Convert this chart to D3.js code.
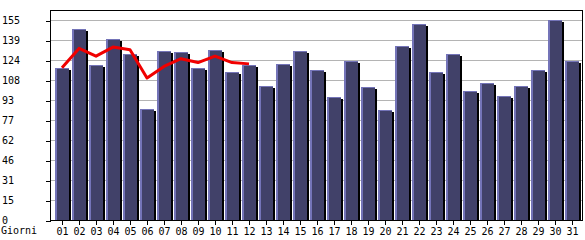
<!DOCTYPE html>
<html>
<head>
<meta charset="utf-8">
<script src="https://cdn.jsdelivr.net/npm/d3@7"></script>
<style>
  html, body { margin: 0; padding: 0; background: #fff; }
  svg { display: block; }
  text { font-family: "DejaVu Sans Mono", monospace; font-size: 10px; fill: #000; }
</style>
</head>
<body>
<svg id="chart" width="585" height="240"></svg>
<script>
(function () {
  'use strict';

  // ── Data ──────────────────────────────────────────────────────────────────
  var days = ['01','02','03','04','05','06','07','08','09','10','11','12','13','14','15','16',
              '17','18','19','20','21','22','23','24','25','26','27','28','29','30','31'];
  var visits = [118, 148, 120, 140, 129, 86, 131, 130, 118, 132, 115, 120, 104, 121, 131, 116,
                95, 123, 103, 85, 135, 152, 115, 129, 100, 106, 96, 104, 116, 155, 123];
  var trendDays = ['01','02','03','04','05','06','07','08','09','10','11','12'];
  var trend = [118, 133, 127, 134, 132, 110, 119, 125, 122, 127, 122, 121];
  var yTickValues = [0, 15.5, 31, 46.5, 62, 77.5, 93, 108.5, 124, 139.5, 155];
  var yTickLabels = ['0','15','31','46','62','77','93','108','124','139','155'];
  var xTitle = 'Giorni';

  // ── Layout ────────────────────────────────────────────────────────────────
  var left = 50, right = 582, top = 10, bottom = 220;
  var svg = d3.select('#chart');

  var x = d3.scaleBand().domain(days).range([54, 54 + days.length * 17]).padding(0);
  var y = d3.scaleLinear().domain([0, 155]).range([bottom, 20]);

  // ── Gridlines ─────────────────────────────────────────────────────────────
  svg.append('g').selectAll('line').data(yTickValues.slice(1)).join('line')
    .attr('x1', left).attr('x2', right)
    .attr('y1', function (d) { return Math.round(y(d)) + 0.5; })
    .attr('y2', function (d) { return Math.round(y(d)) + 0.5; })
    .attr('stroke', '#b4b4b4').attr('stroke-width', 1);

  // ── Bars: shadow, highlight, body ─────────────────────────────────────────
  var bars = svg.append('g').attr('shape-rendering', 'crispEdges')
    .selectAll('g').data(visits).join('g');

  function bx(d, i) { return x(days[i]) + 1; }
  function by(d) { return Math.round(y(d)); }

  bars.append('rect')
    .attr('x', function (d, i) { return bx(d, i) + 2; })
    .attr('y', function (d) { return by(d) + 2; })
    .attr('width', 14)
    .attr('height', function (d) { return Math.max(0, bottom - by(d) - 2); })
    .attr('fill', '#000');
  bars.append('rect')
    .attr('x', bx)
    .attr('y', by)
    .attr('width', 14)
    .attr('height', function (d) { return bottom - by(d); })
    .attr('fill', '#7474b8');
  bars.append('rect')
    .attr('x', function (d, i) { return bx(d, i) + 2; })
    .attr('y', function (d) { return by(d) + 1; })
    .attr('width', 12)
    .attr('height', function (d) { return bottom - by(d) - 1; })
    .attr('fill', '#414169');

  // ── Trend line ────────────────────────────────────────────────────────────
  var line = d3.line()
    .x(function (d, i) { return x(trendDays[i]) + 8; })
    .y(function (d) { return y(d); });
  svg.append('path').datum(trend)
    .attr('d', line)
    .attr('fill', 'none')
    .attr('stroke', '#f00000')
    .attr('stroke-width', 3)
    .attr('stroke-linejoin', 'round');

  // ── Frame ─────────────────────────────────────────────────────────────────
  svg.append('rect')
    .attr('x', left + 0.5).attr('y', top + 0.5)
    .attr('width', right - left).attr('height', bottom - top)
    .attr('fill', 'none').attr('stroke', '#000').attr('stroke-width', 1)
    .attr('shape-rendering', 'crispEdges');

  // ── Axes ──────────────────────────────────────────────────────────────────
  var yAxis = svg.append('g')
    .attr('transform', 'translate(' + (left + 0.5) + ',0.5)')
    .attr('shape-rendering', 'crispEdges')
    .call(d3.axisLeft(y).tickValues(yTickValues).tickSize(5).tickSizeOuter(0)
      .tickFormat(function (d, i) { return yTickLabels[i]; }));
  yAxis.select('.domain').remove();
  yAxis.selectAll('.tick line').attr('stroke', '#000');
  yAxis.selectAll('.tick text')
    .attr('x', -(left - 1.5)).attr('dy', '0.32em')
    .attr('text-anchor', 'start')
    .attr('font-family', null).attr('font-size', null);

  var xAxis = svg.append('g')
    .attr('transform', 'translate(0.5,' + (bottom + 0.5) + ')')
    .attr('shape-rendering', 'crispEdges')
    .call(d3.axisBottom(x).tickSize(4).tickSizeOuter(0).tickPadding(3));
  xAxis.select('.domain').remove();
  xAxis.selectAll('.tick').attr('transform', function (d) {
    return 'translate(' + (x(d) + 8) + ',0)';
  });
  xAxis.selectAll('.tick line').attr('stroke', '#000');
  xAxis.selectAll('.tick text').attr('font-family', null).attr('font-size', null);

  svg.append('text').attr('x', 1).attr('y', 234).text(xTitle);
})();
</script>
</body>
</html>
